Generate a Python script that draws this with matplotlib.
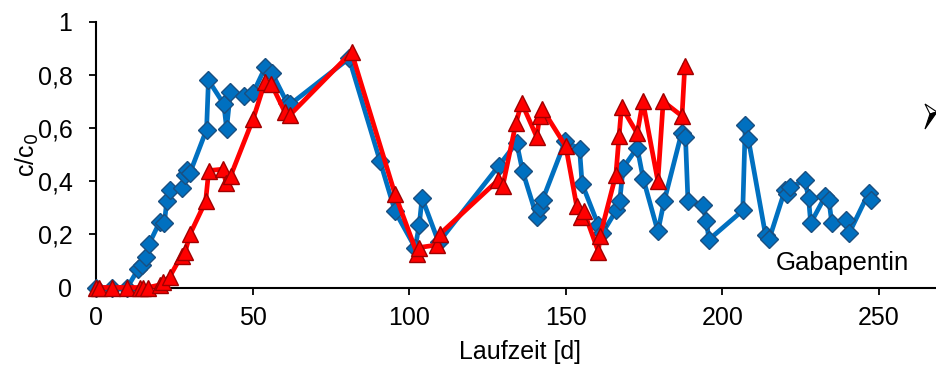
import matplotlib
matplotlib.use("Agg")
import matplotlib.pyplot as plt
from matplotlib.patches import Polygon
from matplotlib.ticker import FuncFormatter

plt.rcParams['font.family'] = ['Liberation Sans', 'DejaVu Sans']

# Blue series (diamonds)
blue_days = [0, 5, 10, 13.5, 14.6, 16, 17, 20.4, 21.8, 22.6, 23.6, 27.4, 28.4, 29.2, 30,
             35.3, 35.9, 40.8, 41.7, 42.9, 47.4, 50.2, 54.1, 56.2, 61, 62, 80.8,
             90.7, 95.5, 101.9, 103.2, 104.1, 109.4, 128.6, 134.3, 136.2, 140.7, 141.7, 142.6,
             149.8, 154.4, 155.2, 160.4, 161.7, 166.1, 167.2, 168.3, 172.8, 174.7, 179.4,
             181.4, 187, 188.2, 189, 193.8, 194.9, 195.7, 206.5, 207.3, 208.3, 213.8, 215,
             220, 220.6, 221.6, 226.4, 227.5, 228.2, 232.8, 234, 234.9, 239.6, 240.5, 246.7, 247.4]
blue_vals = [0, 0, 0, 0.07, 0.085, 0.115, 0.165, 0.248, 0.242, 0.324, 0.368, 0.374, 0.425, 0.443, 0.431,
             0.594, 0.78, 0.69, 0.598, 0.734, 0.722, 0.733, 0.83, 0.807, 0.695, 0.689, 0.862,
             0.475, 0.286, 0.15, 0.234, 0.337, 0.17, 0.458, 0.545, 0.438, 0.267, 0.299, 0.33,
             0.55, 0.521, 0.39, 0.234, 0.205, 0.29, 0.324, 0.45, 0.526, 0.41, 0.211,
             0.324, 0.583, 0.568, 0.327, 0.31, 0.25, 0.18, 0.29, 0.61, 0.557, 0.196, 0.184,
             0.368, 0.35, 0.378, 0.403, 0.337, 0.242, 0.343, 0.33, 0.244, 0.255, 0.205, 0.356, 0.33]

# Red series (triangles)
red_days = [0, 1, 5, 10, 14, 15, 16.5, 20.5, 21.5, 23.5, 27.3, 28.5, 30, 35, 36, 40.5, 41.5, 43,
            50.2, 54, 56, 60.3, 62, 81.6, 95.5, 102.6, 103, 108.8, 109.7, 128.5, 129.9,
            134.1, 135.9, 140.7, 141.7, 142.5, 150, 153.5, 155, 155.8, 160.4, 160.9,
            166, 167, 167.8, 172.8, 174.6, 179.4, 181.1, 187.1, 188]
red_vals = [0, 0, 0, 0, 0, 0, 0, 0.01, 0.02, 0.04, 0.12, 0.135, 0.2, 0.324, 0.44, 0.445, 0.395, 0.42,
            0.635, 0.775, 0.765, 0.66, 0.65, 0.885, 0.35, 0.125, 0.15, 0.16, 0.2, 0.405, 0.383,
            0.62, 0.695, 0.567, 0.645, 0.672, 0.531, 0.305, 0.267, 0.286, 0.135, 0.192,
            0.425, 0.569, 0.68, 0.58, 0.70, 0.40, 0.70, 0.645, 0.835]

x_ticks = [0, 50, 100, 150, 200, 250]
y_ticks = [0, 0.2, 0.4, 0.6, 0.8, 1.0]

W, H = 936, 367
AXW = 939.6
fig = plt.figure(figsize=(W / 100, H / 100), dpi=100)
ax = fig.add_axes([96 / W, (H - 287.5) / H, AXW / W, (287.5 - 21.7) / H])
ax.set_xlim(0, 300)
ax.set_ylim(0, 1)

ax.plot(blue_days, blue_vals, color='#0070C0', lw=3.4, marker='D', ms=9.5,
        mfc='#0070C0', mec='#1A4F80', mew=1, zorder=3, clip_on=False)
ax.plot(red_days, red_vals, color='#FF0000', lw=3.4, marker='^', ms=12,
        mfc='#FF0000', mec='#A00000', mew=1, zorder=4, clip_on=False)

ax.set_xticks(x_ticks)
ax.set_yticks(y_ticks)
ax.yaxis.set_major_formatter(FuncFormatter(lambda v, p: ('%g' % round(v, 1)).replace('.', ',')))
ax.tick_params(axis='both', direction='out', length=5, width=1.3, labelsize=18, colors='black')
ax.tick_params(axis='y', pad=12)
ax.tick_params(axis='x', pad=8)
for s in ['top', 'right']:
    ax.spines[s].set_visible(False)
for s in ['left', 'bottom']:
    ax.spines[s].set_linewidth(1.5)

ax.set_xlabel('Laufzeit [d]', fontsize=18)
ax.xaxis.set_label_coords((520 - 96) / AXW, -(352 - 287.5) / (287.5 - 21.7))
ax.xaxis.label.set_va('center')
ax.set_ylabel('c/c$_0$', fontsize=18)
ax.yaxis.set_label_coords(-(96 - 27) / AXW, (287.5 - 155) / (287.5 - 21.7))
ax.yaxis.label.set_va('center')

fig.text(776 / W, (H - 263) / H, 'Gabapentin', fontsize=18.5, ha='left', va='center')

# partial arrow glyph at right edge
def P(x, y):
    return (x / W, (H - y) / H)
upper = Polygon([P(925, 104), P(937, 112), P(930, 114)], closed=True, fc='white', ec='black',
                lw=0.8, transform=fig.transFigure)
lower = Polygon([P(930, 114), P(937, 112), P(925, 129)], closed=True, fc='black', ec='black',
                lw=0.8, transform=fig.transFigure)
fig.patches.extend([upper, lower])

fig.savefig('out.png', dpi=100)
